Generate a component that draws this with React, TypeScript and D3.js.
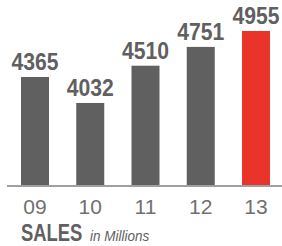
import React from "react";
import * as d3 from "d3";

const years: string[] = ["09", "10", "11", "12", "13"];
const sales: number[] = [4365, 4032, 4510, 4751, 4955];
const highlight = "13";

const width = 282;
const height = 246;
const baseline = 185;

const App: React.FC = () => {
  const x = d3
    .scaleBand<string>()
    .domain(years)
    .range([0, 291])
    .paddingInner(0.493)
    .paddingOuter(0.38);

  const y = d3.scaleLinear().domain([2980, 4955]).range([baseline, 31]);

  const font = "'Liberation Sans', Arial, sans-serif";

  return (
    <svg
      width={width}
      height={height}
      style={{ position: "absolute", left: 0, top: 0, display: "block" }}
    >
      <rect width={width} height={height} fill="#fff" />
      {years.map((yr, i) => (
        <g key={yr}>
          <rect
            x={x(yr)}
            y={y(sales[i])}
            width={x.bandwidth()}
            height={baseline - y(sales[i])}
            fill={yr === highlight ? "#ea3329" : "#5f605f"}
          />
          <g
            transform={`translate(${(x(yr) as number) + x.bandwidth() / 2},${y(sales[i]) - 7}) scale(0.92,1)`}
          >
            <text
              textAnchor="middle"
              fontFamily={font}
              fontWeight="bold"
              fontSize={23}
              fill="#5f605f"
            >
              {sales[i]}
            </text>
          </g>
          <text
            x={(x(yr) as number) + x.bandwidth() / 2}
            y={214}
            textAnchor="middle"
            fontFamily={font}
            fontSize={21}
            fill="#707070"
          >
            {yr}
          </text>
        </g>
      ))}
      <line x1={7} x2={282} y1={186} y2={186} stroke="#a0a0a0" strokeWidth={2} />
      <g transform="translate(21,241) scale(0.8,1)">
        <text fontFamily={font} fontWeight="bold" fontSize={23} fill="#5f605f">
          SALES
        </text>
      </g>
      <g transform="translate(90,241) scale(0.9,1)">
        <text fontFamily={font} fontStyle="italic" fontSize={15} fill="#5f605f">
          in Millions
        </text>
      </g>
    </svg>
  );
};

export default App;
